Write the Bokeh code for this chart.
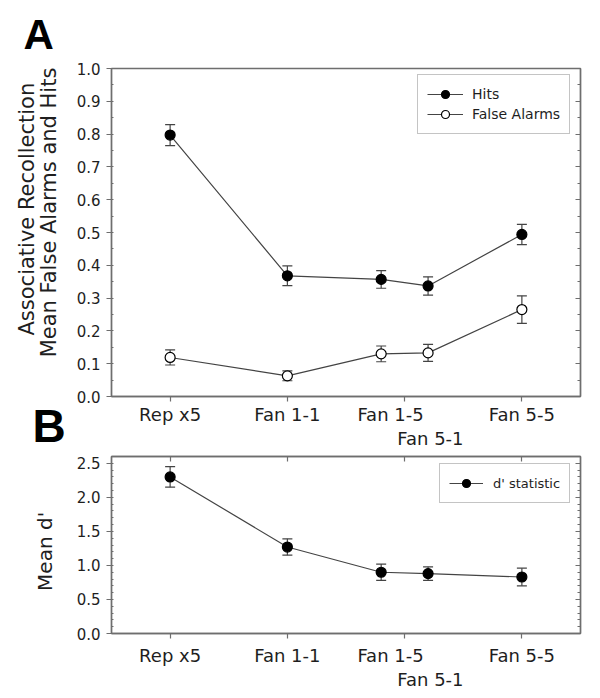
from bokeh.plotting import figure
from bokeh.models import (ColumnDataSource, Range1d, LinearAxis, FixedTicker,
                          SingleIntervalTicker, NumeralTickFormatter,
                          CustomJSTickFormatter, Whisker, TeeHead, Legend,
                          LegendItem, Title)
from bokeh.layouts import column
from bokeh.embed import file_html
from bokeh.resources import INLINE

# ---------------- data ----------------
categories = ["Rep x5", "Fan 1-1", "Fan 1-5", "Fan 5-1", "Fan 5-5"]
x_pos = [1, 2, 2.8, 3.2, 4]
hits = [0.797, 0.368, 0.357, 0.337, 0.494]
hits_err = [0.032, 0.030, 0.027, 0.028, 0.031]
false_alarms = [0.119, 0.063, 0.130, 0.133, 0.265]
false_alarms_err = [0.023, 0.015, 0.024, 0.026, 0.042]
dprime = [2.30, 1.27, 0.90, 0.88, 0.83]
dprime_err = [0.15, 0.12, 0.12, 0.10, 0.13]

# category ticks and where their (staggered) labels sit
tick_positions = [1, 2, 3, 4]
label_row1_pos = [1, 2, 2.88, 4]
label_row1_text = ["Rep x5", "Fan 1-1", "Fan 1-5", "Fan 5-5"]
label_row2_pos = [3.22]
label_row2_text = ["Fan 5-1"]

FONT = "DejaVu Sans"
TXT = "#1e1e1e"
FRAME = "#6e6e6e"
LINE = "#444444"
NB = "\u00a0"


def src(vals, errs):
    return ColumnDataSource(dict(
        x=x_pos, y=vals,
        upper=[v + e for v, e in zip(vals, errs)],
        lower=[v - e for v, e in zip(vals, errs)]))


def style_base(p):
    p.outline_line_color = FRAME
    p.outline_line_width = 1.4
    p.xgrid.visible = False
    p.ygrid.visible = False
    p.background_fill_color = "white"


def style_axis(ax):
    ax.axis_line_color = FRAME
    ax.axis_line_width = 1.4
    ax.major_tick_line_color = FRAME
    ax.minor_tick_line_color = FRAME
    ax.major_tick_line_width = 1.2
    ax.minor_tick_line_width = 1


def blank_labels(ax):
    ax.formatter = CustomJSTickFormatter(code="return ''")
    ax.major_label_text_font_size = "1px"
    ax.major_label_standoff = 0


def add_series(p, s, fill):
    w = Whisker(source=s, base="x", upper="upper", lower="lower",
                line_color=LINE, line_width=1.2,
                upper_head=TeeHead(size=10, line_color=LINE, line_width=1.2),
                lower_head=TeeHead(size=10, line_color=LINE, line_width=1.2))
    p.add_layout(w)
    ln = p.line("x", "y", source=s, line_color=LINE, line_width=1.2)
    sc = p.scatter("x", "y", source=s, size=10, fill_color=fill,
                   line_color="black", line_width=1.2)
    return ln, sc


def label_axis(positions, texts, standoff):
    ax = LinearAxis(ticker=FixedTicker(ticks=positions, minor_ticks=[]))
    ax.major_label_overrides = {p: t for p, t in zip(positions, texts)}
    ax.axis_line_color = None
    ax.major_tick_line_color = None
    ax.minor_tick_line_color = None
    ax.major_tick_out = 0
    ax.major_tick_in = 0
    ax.minor_tick_out = 0
    ax.minor_tick_in = 0
    ax.major_label_standoff = standoff
    ax.major_label_text_font = FONT
    ax.major_label_text_font_size = "18px"
    ax.major_label_text_color = TXT
    return ax


def title_axis(text, standoff, size):
    ax = LinearAxis(ticker=FixedTicker(ticks=[], minor_ticks=[]))
    ax.axis_line_color = None
    ax.major_tick_line_color = None
    ax.minor_tick_line_color = None
    ax.major_tick_out = 0
    ax.major_tick_in = 0
    ax.minor_tick_out = 0
    ax.minor_tick_in = 0
    ax.major_label_standoff = 0
    ax.axis_label = text
    ax.axis_label_standoff = standoff
    ax.axis_label_text_font = FONT
    ax.axis_label_text_font_size = size
    ax.axis_label_text_font_style = "normal"
    ax.axis_label_text_color = TXT
    return ax


def setup_axes(p, yticker, top_ticks, row1_standoff, row2_standoff):
    # bottom axis: ticks only
    xa = p.xaxis[0]
    xa.ticker = FixedTicker(ticks=tick_positions, minor_ticks=[])
    xa.major_tick_out = 5
    xa.major_tick_in = 0
    xa.minor_tick_out = 0
    xa.minor_tick_in = 0
    blank_labels(xa)
    style_axis(xa)
    p.add_layout(label_axis(label_row1_pos, label_row1_text, row1_standoff),
                 "below")
    p.add_layout(label_axis(label_row2_pos, label_row2_text, row2_standoff),
                 "below")
    # left axis
    ya = p.yaxis[0]
    ya.ticker = yticker
    ya.formatter = NumeralTickFormatter(format="0.0")
    ya.major_tick_out = 5
    ya.major_tick_in = 0
    ya.minor_tick_out = 0
    ya.minor_tick_in = 2
    ya.major_label_standoff = 6
    ya.major_label_text_font = FONT
    ya.major_label_text_font_size = "15px"
    ya.major_label_text_color = TXT
    style_axis(ya)
    # right axis (ticks inside)
    ra = LinearAxis(ticker=yticker)
    ra.major_tick_out = 0
    ra.major_tick_in = 5
    ra.minor_tick_out = 0
    ra.minor_tick_in = 3
    blank_labels(ra)
    style_axis(ra)
    p.add_layout(ra, "right")
    if top_ticks:
        ta = LinearAxis(ticker=FixedTicker(ticks=tick_positions, minor_ticks=[]))
        ta.major_tick_out = 0
        ta.major_tick_in = 5
        ta.minor_tick_out = 0
        ta.minor_tick_in = 0
        blank_labels(ta)
        style_axis(ta)
        p.add_layout(ta, "above")


# ---------------- panel A ----------------
pA = figure(frame_width=469, frame_height=328, min_border_left=111,
            min_border_right=20, min_border_top=68, min_border_bottom=56,
            x_range=Range1d(0.5, 4.5), y_range=Range1d(0, 1.0),
            output_backend="svg", toolbar_location=None)
style_base(pA)
setup_axes(pA, SingleIntervalTicker(interval=0.1, num_minor_ticks=2),
           False, 2, 0)
# leading no-break spaces nudge the (upward-reading) titles up the axis
pA.add_layout(title_axis(NB * 6 + "Mean False Alarms and Hits", 13, "21px"),
              "left")
pA.add_layout(title_axis(NB * 7 + "Associative Recollection", -5, "21px"),
              "left")

hits_src = src(hits, hits_err)
fa_src = src(false_alarms, false_alarms_err)
hl, hs = add_series(pA, hits_src, "black")
fl, fs = add_series(pA, fa_src, "white")

legA = Legend(items=[LegendItem(label="Hits", renderers=[hl, hs]),
                     LegendItem(label="False Alarms", renderers=[fl, fs])],
              location=(306, 262), padding=9, spacing=0, margin=0,
              glyph_width=36, glyph_height=20, label_height=20,
              label_standoff=9, label_text_font=FONT,
              label_text_font_size="14px", label_text_color=TXT,
              border_line_color="#8a8a8a", border_line_width=1.2,
              background_fill_color="white", background_fill_alpha=1)
pA.add_layout(legA)

pA.add_layout(Title(text="A", align="left", offset=-88, standoff=18,
                    vertical_align="top", text_font="Liberation Sans",
                    text_font_style="bold", text_font_size="42px",
                    text_color="black"), "above")

# ---------------- panel B ----------------
pB = figure(frame_width=469, frame_height=177, min_border_left=111,
            min_border_right=20, min_border_top=64, min_border_bottom=65,
            x_range=Range1d(0.5, 4.5), y_range=Range1d(0, 2.6),
            output_backend="svg", toolbar_location=None,
            margin=(-60, 0, 0, 0))
style_base(pB)
pB.border_fill_color = None
setup_axes(pB, SingleIntervalTicker(interval=0.5, num_minor_ticks=5),
           True, 6, 0)
pB.add_layout(title_axis("Mean d'" + NB * 2, 17, "20px"), "left")

d_src = src(dprime, dprime_err)
dl, ds = add_series(pB, d_src, "black")

legB = Legend(items=[LegendItem(label="d' statistic", renderers=[dl, ds])],
              location=(328, 130), padding=9, spacing=0, margin=0,
              glyph_width=34, glyph_height=20, label_height=20,
              label_standoff=10, label_text_font=FONT,
              label_text_font_size="13px", label_text_color=TXT,
              border_line_color="#8a8a8a", border_line_width=1.2,
              background_fill_color="white", background_fill_alpha=1)
pB.add_layout(legB)

pB.add_layout(Title(text="B", align="left", offset=-79, standoff=9,
                    vertical_align="bottom", text_font="Liberation Sans",
                    text_font_style="bold", text_font_size="46px",
                    text_color="black"), "above")

layout = column(pA, pB, spacing=0)
open("out.html", "w").write(file_html(layout, INLINE))
